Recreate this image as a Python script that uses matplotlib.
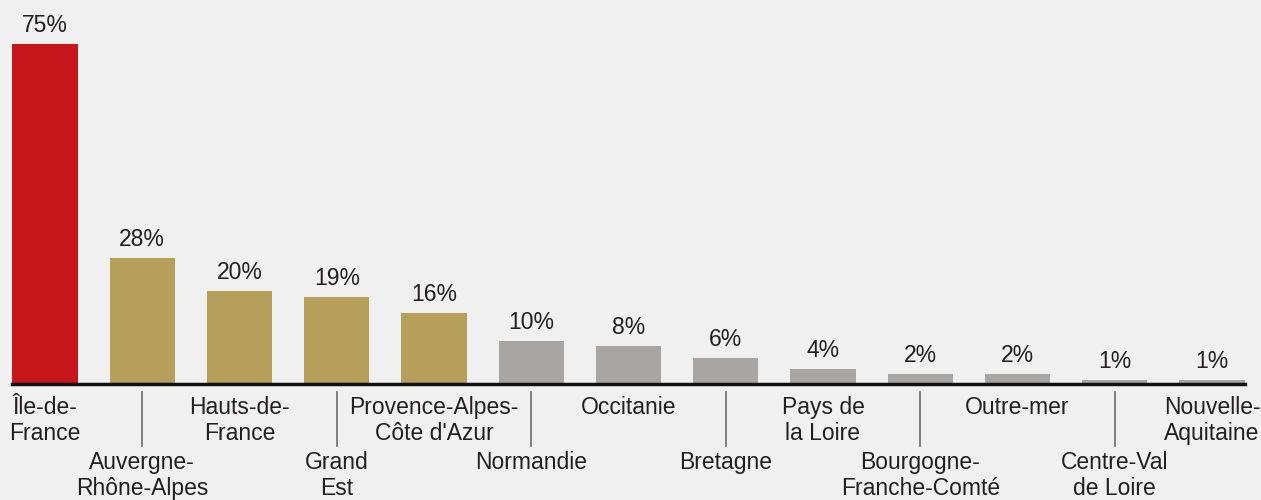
import matplotlib
matplotlib.use("Agg")
import matplotlib.pyplot as plt
import matplotlib.transforms as mtransforms

regions = ["Île-de-\nFrance", "Auvergne-\nRhône-Alpes", "Hauts-de-\nFrance", "Grand\nEst",
           "Provence-Alpes-\nCôte d'Azur", "Normandie", "Occitanie", "Bretagne",
           "Pays de\nla Loire", "Bourgogne-\nFranche-Comté", "Outre-mer", "Centre-Val\nde Loire",
           "Nouvelle-\nAquitaine"]
values = [75, 27.8, 20.5, 19.2, 15.7, 9.5, 8.4, 5.7, 3.3, 2.2, 2.2, 0.9, 0.9]
value_labels = ["75%", "28%", "20%", "19%", "16%", "10%", "8%", "6%", "4%", "2%", "2%", "1%", "1%"]
groups = ["top", "mid", "mid", "mid", "mid", "low", "low", "low", "low", "low", "low", "low", "low"]

group_colors = {"top": "#c8161d", "mid": "#b59f5b", "low": "#a9a5a2"}
bg = "#f0f0f0"
txt = "#231f20"

plt.rcParams['font.family'] = ['Liberation Sans', 'DejaVu Sans']

W, H = 1261, 500
fig = plt.figure(figsize=(W / 100, H / 100), dpi=100, facecolor=bg)
ax = fig.add_axes([12 / W, 116 / H, 1233 / W, 384 / H])
ax.set_facecolor(bg)

x = list(range(len(regions)))
colors = [group_colors[g] for g in groups]
ax.bar(x, values, width=0.67, color=colors, zorder=2)

ax.set_xlim(-0.34, len(regions) - 1 + 0.34)
ax.set_ylim(0, 84.7)

for s in ["top", "right", "left"]:
    ax.spines[s].set_visible(False)
ax.spines["bottom"].set_linewidth(2.5)
ax.spines["bottom"].set_color("#111111")
ax.spines["bottom"].set_zorder(3)
ax.set_xticks([])
ax.set_yticks([])

FS = 16.5
for xi, v, lab in zip(x, values, value_labels):
    ax.annotate(lab, (xi, v), xytext=(0, 7), textcoords="offset pixels",
                ha="center", va="bottom", fontsize=FS, color=txt)

trans = mtransforms.blended_transform_factory(ax.transData, ax.transAxes)
ah = 384.0
for xi, lab in zip(x, regions):
    if xi % 2 == 0:
        ax.text(xi, -12 / ah, lab, transform=trans, ha="center", va="top",
                fontsize=FS, color=txt, linespacing=1.18)
    else:
        ax.text(xi, -67 / ah, lab, transform=trans, ha="center", va="top",
                fontsize=FS, color=txt, linespacing=1.18)
        ax.plot([xi, xi], [-8 / ah, -62 / ah], transform=trans, color="#6e6a68",
                lw=1.2, clip_on=False)

fig.savefig("out.png", dpi=100, facecolor=bg)
